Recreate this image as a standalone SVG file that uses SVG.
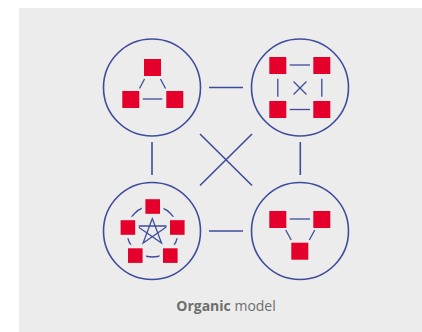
<svg xmlns="http://www.w3.org/2000/svg" width="422" height="332" viewBox="0 0 422 332">
<style>
.ring{fill:none;stroke:#3f4c9c;stroke-width:1.6}
.ln{fill:none;stroke:#3f4c9c;stroke-width:1.6;stroke-linecap:butt}
.thin{fill:none;stroke:#3f4c9c;stroke-width:1.3}
.sq{fill:#e4002b}
.sqg{fill:#e4002b;stroke:#ececec;stroke-width:7;paint-order:stroke}
.lbl{font-family:"Open Sans","Noto Sans",sans-serif;font-size:14px;fill:#6e6e6e}
</style>
<rect x="19" y="8" width="403" height="324" fill="#ececec"/>
<g id="connectors">
<line class="ln" x1="209" y1="87.5" x2="243" y2="87.5"/>
<line class="ln" x1="209" y1="231" x2="243" y2="231"/>
<line class="ln" x1="152" y1="142" x2="152" y2="175"/>
<line class="ln" x1="300.3" y1="142" x2="300.3" y2="175"/>
<line class="ln" x1="200" y1="134" x2="252" y2="185.5"/>
<line class="ln" x1="252" y1="134" x2="200" y2="185.5"/>
</g>
<g id="node-triangle">
<circle class="ring" cx="152" cy="87.5" r="48.5"/>
<line class="thin" x1="142.7" y1="99" x2="162.3" y2="99"/>
<line class="thin" x1="144.5" y1="79" x2="139.5" y2="88.5"/>
<line class="thin" x1="160.5" y1="79" x2="165.5" y2="88.5"/>
<rect class="sq" x="144" y="59" width="17" height="17"/>
<rect class="sq" x="122.3" y="91" width="17" height="17"/>
<rect class="sq" x="166.3" y="91" width="17" height="17"/>
</g>
<g id="node-square">
<circle class="ring" cx="300" cy="87.5" r="48.5"/>
<line class="thin" x1="289.7" y1="65" x2="310" y2="65"/>
<line class="thin" x1="289.7" y1="109.5" x2="310" y2="109.5"/>
<line class="thin" x1="277.8" y1="78.7" x2="277.8" y2="96.7"/>
<line class="thin" x1="321.8" y1="78.7" x2="321.8" y2="96.7"/>
<line class="thin" x1="293.5" y1="81.5" x2="306.5" y2="94.5"/>
<line class="thin" x1="306.5" y1="81.5" x2="293.5" y2="94.5"/>
<rect class="sq" x="269.3" y="57" width="17" height="17"/>
<rect class="sq" x="313.3" y="57" width="17" height="17"/>
<rect class="sq" x="269.3" y="101" width="17" height="17"/>
<rect class="sq" x="313.3" y="101" width="17" height="17"/>
</g>
<g id="node-pentagon">
<circle class="ring" cx="152" cy="231" r="48.5"/>
<circle class="thin" cx="152.5" cy="231.5" r="25.5"/>
<polygon class="thin" stroke-linejoin="miter" points="152.3,218.5 161.5,243 136.8,226 167.8,226 143.1,243"/>
<rect class="sqg" x="145.4" y="199.2" width="14.6" height="14.6"/>
<rect class="sqg" x="120.6" y="220.2" width="14.6" height="14.6"/>
<rect class="sqg" x="170" y="220.2" width="14.6" height="14.6"/>
<rect class="sqg" x="128" y="248.3" width="14.6" height="14.6"/>
<rect class="sqg" x="163" y="248.3" width="14.6" height="14.6"/>
</g>
<g id="node-triangle-inv">
<circle class="ring" cx="300" cy="231" r="48.5"/>
<line class="thin" x1="289.7" y1="219" x2="310" y2="219"/>
<line class="thin" x1="285.7" y1="230" x2="291.2" y2="240"/>
<line class="thin" x1="314.8" y1="230" x2="309.3" y2="240"/>
<rect class="sq" x="269.3" y="211" width="17" height="17"/>
<rect class="sq" x="313.3" y="211" width="17" height="17"/>
<rect class="sq" x="291.3" y="242.7" width="17" height="17"/>
</g>
<text class="lbl" x="226" y="311" text-anchor="middle"><tspan font-weight="bold">Organic</tspan> model</text>
</svg>
